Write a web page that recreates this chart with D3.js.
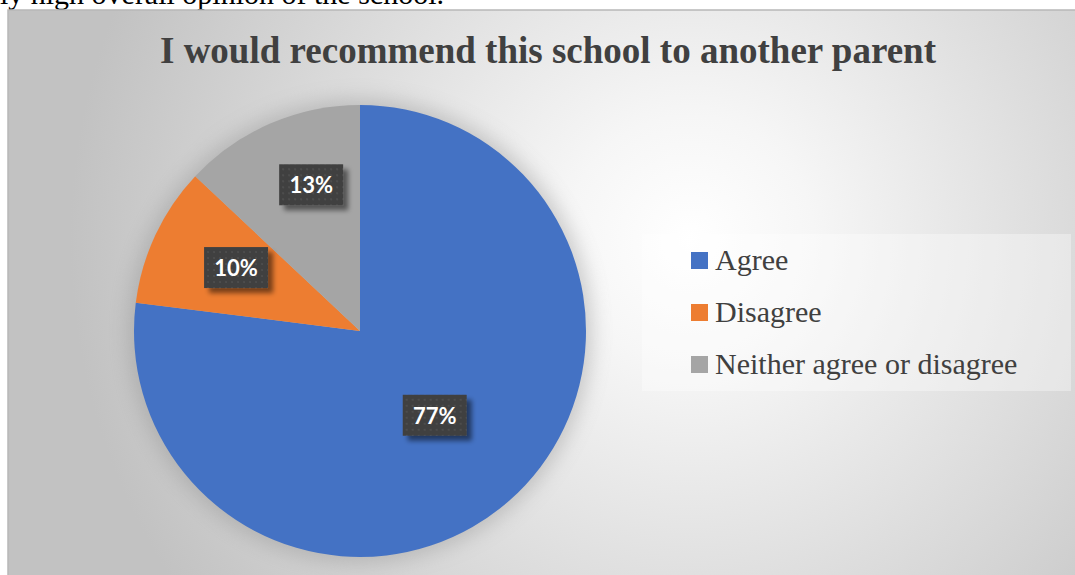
<!DOCTYPE html>
<html><head><meta charset="utf-8">
<script src="https://cdn.jsdelivr.net/npm/d3@7"></script>
<style>html,body{margin:0;padding:0;background:#fff;overflow:hidden}</style>
</head><body>
<svg id="c" width="1075" height="575"></svg>
<script>
const categories = ["Agree", "Disagree", "Neither agree or disagree"];
const values = [77, 10, 13];
const labels = ["77%", "10%", "13%"];
const colors = ["#4472C4", "#ED7D31", "#A5A5A5"];
const title = "I would recommend this school to another parent";
const aboveText = "ly high overall opinion of the school.";

const svg = d3.select("#c");
const defs = svg.append("defs");

const bg = defs.append("radialGradient").attr("id","bg")
  .attr("gradientUnits","userSpaceOnUse").attr("cx",690).attr("cy",240).attr("r",620);
bg.append("stop").attr("offset",0).attr("stop-color","#ffffff");
bg.append("stop").attr("offset",0.2).attr("stop-color","#f6f6f6");
bg.append("stop").attr("offset",1).attr("stop-color","#c2c2c2");

const glow = defs.append("filter").attr("id","glow").attr("x","-30%").attr("y","-30%").attr("width","160%").attr("height","160%");
glow.append("feGaussianBlur").attr("stdDeviation",10);

const sh = defs.append("filter").attr("id","sh").attr("x","-30%").attr("y","-30%").attr("width","160%").attr("height","160%");
sh.append("feGaussianBlur").attr("in","SourceAlpha").attr("stdDeviation",2.5).attr("result","b");
sh.append("feOffset").attr("dx",5).attr("dy",5).attr("result","o");
sh.append("feComponentTransfer").append("feFuncA").attr("type","linear").attr("slope",0.5);
const m = sh.append("feMerge"); m.append("feMergeNode"); m.append("feMergeNode").attr("in","SourceGraphic");

const pat = defs.append("pattern").attr("id","dots").attr("patternUnits","userSpaceOnUse").attr("width",6).attr("height",6);
pat.append("rect").attr("width",6).attr("height",6).attr("fill","#404040");
pat.append("rect").attr("x",1).attr("y",1).attr("width",2).attr("height",2).attr("fill","#4d4d4d");

// text above the chart (document text, cut by the page edge as in the source)
svg.append("text").attr("x",444).attr("y",4).attr("text-anchor","end")
  .attr("font-family","Liberation Serif").attr("font-size",30).attr("fill","#000").text(aboveText);

// chart area
svg.append("rect").attr("x",8).attr("y",10).attr("width",1075).attr("height",575)
  .attr("fill","url(#bg)").attr("stroke","#b8b8b8").attr("stroke-width",1.5);

svg.append("text").attr("x",548).attr("y",63).attr("text-anchor","middle")
  .attr("font-family","Liberation Serif").attr("font-weight","bold").attr("font-size",37)
  .attr("fill","#404040").text(title);

const cx = 360, cy = 331, r = 226;
const g = svg.append("g").attr("transform",`translate(${cx},${cy})`);
g.append("circle").attr("r",r+6).attr("fill","#8a8a8a").attr("opacity",0.4).attr("filter","url(#glow)");

const pie = d3.pie().sort(null).value(d=>d)(values);
const arc = d3.arc().innerRadius(0).outerRadius(r);
g.selectAll("path.s").data(pie).join("path").attr("class","s")
  .attr("d",arc).attr("fill",(d,i)=>colors[i]);

const lblR = [0.5, 0.615, 0.68];
const lblShift = [0, 0.03, 0.085];
const lg = g.selectAll("g.l").data(pie).join("g").attr("class","l")
  .attr("transform",(d,i)=>{
    const a = (d.startAngle + d.endAngle)/2 + lblShift[i];
    const rr = r*lblR[i];
    return `translate(${rr*Math.sin(a)},${-rr*Math.cos(a)})`;
  });
lg.append("rect").attr("x",-32).attr("y",-21).attr("width",64).attr("height",41)
  .attr("fill","url(#dots)").attr("filter","url(#sh)");
lg.append("text").attr("text-anchor","middle").attr("dy","0.36em")
  .attr("font-family","Lato, 'Open Sans', sans-serif").attr("font-weight","bold").attr("font-size",22)
  .attr("fill","#fff").text((d,i)=>labels[i]);

// legend
const leg = svg.append("g");
leg.append("rect").attr("x",642).attr("y",234).attr("width",429).attr("height",157)
  .attr("fill","#ffffff").attr("opacity",0.35);
const rows = leg.selectAll("g.r").data(categories).join("g").attr("class","r")
  .attr("transform",(d,i)=>`translate(691,${260+i*52})`);
rows.append("rect").attr("x",0).attr("y",-8).attr("width",17).attr("height",17).attr("fill",(d,i)=>colors[i]);
rows.append("text").attr("x",24).attr("y",10).attr("font-family","Liberation Serif")
  .attr("font-size",30).attr("fill","#404040").text(d=>d);
</script>
</body></html>
